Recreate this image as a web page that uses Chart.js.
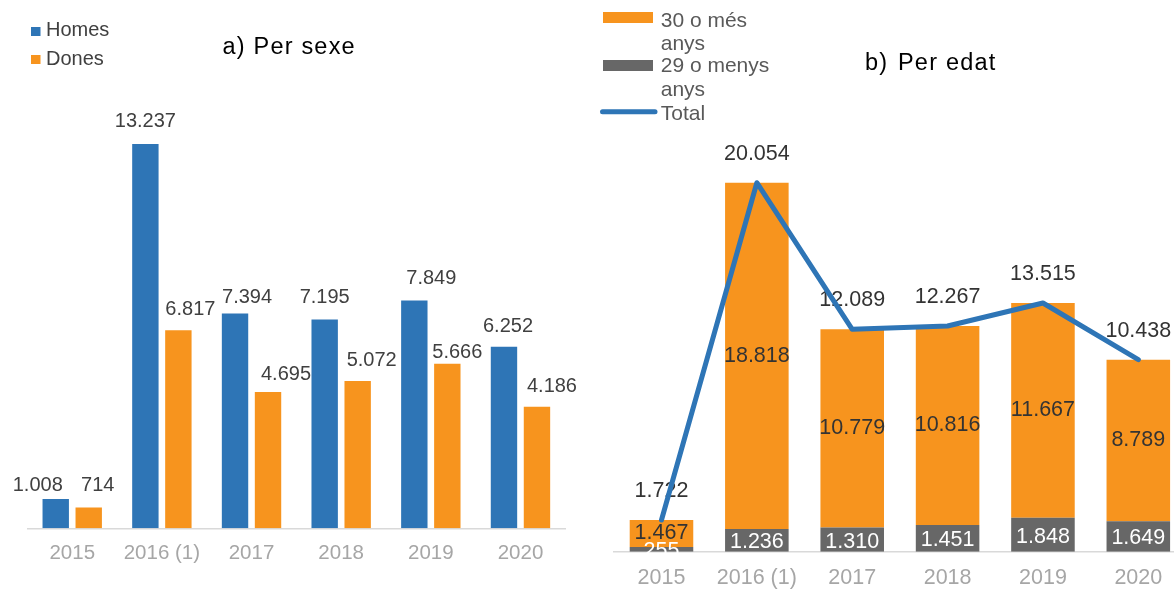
<!DOCTYPE html>
<html>
<head>
<meta charset="utf-8">
<script src="https://cdn.jsdelivr.net/npm/chart.js@4.4.1/dist/chart.umd.min.js"></script>
<style>
  html, body { margin: 0; padding: 0; background: #fff; overflow: hidden; width: 1174px; height: 590px; }
  #stage { position: relative; width: 1174px; height: 590px; overflow: hidden; }
  #boxA { position: absolute; left: 0; top: 0; width: 590px; height: 590px; }
  #boxB { position: absolute; left: 590px; top: 0; width: 620px; height: 620px; }
  canvas { display: block; }
</style>
</head>
<body>
<div id="stage">
  <div id="boxA"><canvas id="chartA" width="590" height="590"></canvas></div>
  <div id="boxB"><canvas id="chartB" width="620" height="620"></canvas></div>
</div>
<script>
// Categories
const years = ['2015', '2016 (1)', '2017', '2018', '2019', '2020'];

// a) Per sexe
const homes = [1008, 13237, 7394, 7195, 7849, 6252];
const dones = [714, 6817, 4695, 5072, 5666, 4186];

// b) Per edat
const edat30mes = [1467, 18818, 10779, 10816, 11667, 8789];
const edat29menys = [255, 1236, 1310, 1451, 1848, 1649];
const totals = [1722, 20054, 12089, 12267, 13515, 10438];

// Value-label placement for chart a): [dx, dy] of each label centre from the top-centre of its bar
const labelShiftHomes = [[-18, -14], [0, -22], [12, -16], [0, -22], [17, -22], [4, -20]];
const labelShiftDones = [[9, -22], [12, -21], [18, -17], [14, -21], [10, -11], [15, -20]];

const FONT = '"Liberation Sans", Arial, Helvetica, sans-serif';
const BLUE = '#2E75B6';
const ORANGE = '#F7941E';
const GREY = '#676767';

const fmt = v => String(v).replace(/\B(?=(\d{3})+(?!\d))/g, '.');

function spaced(ctx, px) {
  if ('letterSpacing' in ctx) ctx.letterSpacing = px + 'px';
}

// ---------- a) Per sexe ----------
const sexeDecor = {
  id: 'sexeDecor',
  afterDatasetsDraw(chart) {
    const ctx = chart.ctx;
    const shifts = [labelShiftHomes, labelShiftDones];
    ctx.save();
    ctx.font = '20px ' + FONT;
    ctx.fillStyle = '#404040';
    ctx.textAlign = 'center';
    ctx.textBaseline = 'middle';
    chart.data.datasets.forEach((ds, di) => {
      chart.getDatasetMeta(di).data.forEach((bar, i) => {
        const [dx, dy] = shifts[di][i];
        ctx.fillText(fmt(ds.data[i]), bar.x + dx, bar.y + dy);
      });
    });
    ctx.restore();
  },
  afterDraw(chart) {
    const ctx = chart.ctx;
    ctx.save();
    // title
    ctx.font = '23.5px ' + FONT;
    ctx.fillStyle = '#000000';
    ctx.textAlign = 'left';
    ctx.textBaseline = 'alphabetic';
    spaced(ctx, 1.2);
    ctx.fillText('a) Per sexe', 222.5, 54.3);
    spaced(ctx, 0);
    // legend
    ctx.font = '20px ' + FONT;
    ctx.fillStyle = BLUE;
    ctx.fillRect(31, 27, 9.5, 9);
    ctx.fillStyle = ORANGE;
    ctx.fillRect(31, 55, 9.5, 9);
    ctx.fillStyle = '#404040';
    ctx.fillText('Homes', 46, 36.3);
    ctx.fillText('Dones', 46, 65);
    ctx.restore();
  }
};

new Chart(document.getElementById('chartA'), {
  type: 'bar',
  data: {
    labels: years,
    datasets: [
      { label: 'Homes', data: homes, backgroundColor: BLUE, categoryPercentage: 0.736, barPercentage: 0.8 },
      { label: 'Dones', data: dones, backgroundColor: ORANGE, categoryPercentage: 0.736, barPercentage: 0.8 }
    ]
  },
  options: {
    responsive: false,
    animation: false,
    devicePixelRatio: 1,
    layout: { padding: { left: 27.4, right: 24.7, top: 121.8, bottom: 12.3 } },
    plugins: { legend: { display: false }, tooltip: { enabled: false }, title: { display: false } },
    scales: {
      x: {
        grid: { display: false, drawTicks: false },
        border: { display: true, color: '#D9D9D9', width: 1.5 },
        ticks: { color: '#A6A6A6', font: { family: FONT, size: 20.5 }, padding: 12.4, maxRotation: 0, autoSkip: false }
      },
      y: { display: false, min: 0, max: 14000 }
    }
  },
  plugins: [sexeDecor]
});

// ---------- b) Per edat ----------
const edatDecor = {
  id: 'edatDecor',
  beforeDatasetDraw(chart, args) {
    // values are written after the bars and underneath the total line
    if (args.meta.type !== 'line') return;
    const ctx = chart.ctx;
    ctx.save();
    ctx.font = '21.5px ' + FONT;
    ctx.textAlign = 'center';
    ctx.textBaseline = 'middle';
    const young = chart.getDatasetMeta(0).data;
    const old = chart.getDatasetMeta(1).data;
    const line = chart.getDatasetMeta(2).data;
    young.forEach((bar, i) => {
      ctx.fillStyle = '#FFFFFF';
      ctx.fillText(fmt(edat29menys[i]), bar.x, (bar.y + bar.base) / 2 + 2);
    });
    old.forEach((bar, i) => {
      ctx.fillStyle = '#333333';
      ctx.fillText(fmt(edat30mes[i]), bar.x, (bar.y + bar.base) / 2);
    });
    line.forEach((pt, i) => {
      ctx.fillStyle = '#333333';
      ctx.fillText(fmt(totals[i]), pt.x, pt.y - 29);
    });
    ctx.restore();
  },
  afterDraw(chart) {
    const ctx = chart.ctx;
    ctx.save();
    // title
    ctx.font = '23.5px ' + FONT;
    ctx.fillStyle = '#000000';
    ctx.textAlign = 'left';
    ctx.textBaseline = 'alphabetic';
    spaced(ctx, 1.2);
    ctx.fillText('b)', 275, 69.5);
    ctx.fillText('Per edat', 308, 69.5);
    spaced(ctx, 0);
    // legend
    ctx.fillStyle = ORANGE;
    ctx.fillRect(13, 12, 50, 11);
    ctx.fillStyle = GREY;
    ctx.fillRect(13, 60, 50, 11);
    ctx.strokeStyle = BLUE;
    ctx.lineWidth = 5;
    ctx.lineCap = 'round';
    ctx.beginPath();
    ctx.moveTo(12.5, 111.7);
    ctx.lineTo(65, 111.7);
    ctx.stroke();
    ctx.font = '21px ' + FONT;
    ctx.fillStyle = '#595959';
    ctx.fillText('30 o més', 70.7, 26.5);
    ctx.fillText('anys', 70.7, 50);
    ctx.fillText('29 o menys', 70.7, 71.5);
    ctx.fillText('anys', 70.7, 96);
    ctx.fillText('Total', 70.7, 119.5);
    ctx.restore();
  }
};

new Chart(document.getElementById('chartB'), {
  type: 'bar',
  data: {
    labels: years,
    datasets: [
      { type: 'bar', label: '29 o menys anys', data: edat29menys, backgroundColor: GREY, order: 1, categoryPercentage: 0.8, barPercentage: 0.833 },
      { type: 'bar', label: '30 o més anys', data: edat30mes, backgroundColor: ORANGE, order: 1, categoryPercentage: 0.8, barPercentage: 0.833 },
      { type: 'line', label: 'Total', data: totals, borderColor: BLUE, borderWidth: 5, pointRadius: 0, tension: 0,
        borderCapStyle: 'round', borderJoinStyle: 'round', fill: false, stack: 'total', order: 0 }
    ]
  },
  options: {
    responsive: false,
    animation: false,
    devicePixelRatio: 1,
    layout: { padding: { left: 23.8, right: 24, top: 146.9, bottom: 15.1 } },
    plugins: { legend: { display: false }, tooltip: { enabled: false }, title: { display: false } },
    scales: {
      x: {
        stacked: true,
        grid: { display: false, drawTicks: false },
        border: { display: true, color: '#D9D9D9', width: 1.5 },
        ticks: { color: '#A6A6A6', font: { family: FONT, size: 21.5 }, padding: 13.7, maxRotation: 0, autoSkip: false }
      },
      y: { display: false, stacked: true, min: 0, max: 22000 }
    }
  },
  plugins: [edatDecor]
});
</script>
</body>
</html>
